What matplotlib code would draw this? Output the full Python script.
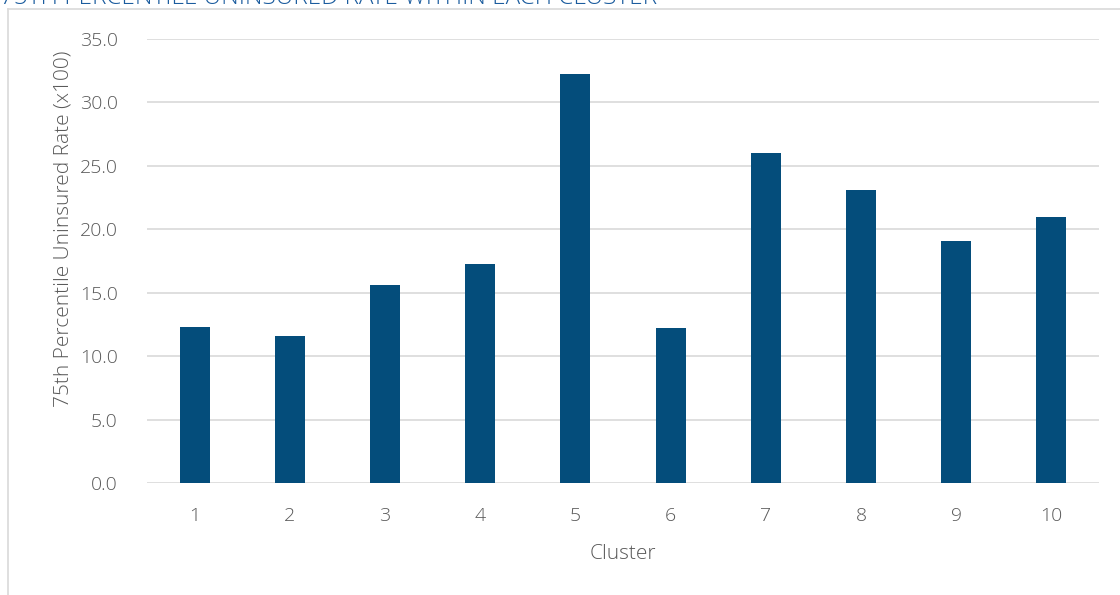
import matplotlib.pyplot as plt
from matplotlib.lines import Line2D

clusters = ['1', '2', '3', '4', '5', '6', '7', '8', '9', '10']
rate_75th = [12.3, 11.6, 15.6, 17.3, 32.2, 12.2, 26.0, 23.1, 19.1, 21.0]

plt.rcParams['font.family'] = ['Open Sans', 'DejaVu Sans']
plt.rcParams['font.weight'] = 'light'
txt = '#595959'

fig = plt.figure(figsize=(11.2, 5.95), dpi=100)
ax = fig.add_axes([0.1313, 0.1882, 0.85, 0.7463])

x = range(len(clusters))
ax.bar(x, rate_75th, width=0.315, color='#044D7B', zorder=3)

ax.set_xlim(-0.5, len(clusters) - 0.5)
ax.set_ylim(0, 35)
ax.set_yticks([0, 5, 10, 15, 20, 25, 30, 35])
ax.set_yticklabels(['%.1f' % v for v in ax.get_yticks()])
ax.set_xticks(list(x))
ax.set_xticklabels(clusters)
ax.tick_params(length=0, labelsize=14, colors=txt)
ax.tick_params(axis='x', pad=17)
ax.tick_params(axis='y', pad=21)
ax.grid(axis='y', color='#D9D9D9', linewidth=1.2, zorder=0)
for s in ax.spines.values():
    s.set_visible(False)

ax.set_xlabel('Cluster', fontsize=15, color=txt, fontweight='light', labelpad=14)
ax.set_ylabel('75th Percentile Uninsured Rate (x100)', fontsize=15, color=txt,
              fontweight='light')
ax.yaxis.set_label_coords(-0.077, 0.572)

# chart frame and title (partly off the top)
fig.add_artist(Line2D([8/1120, 1], [1 - 9/595, 1 - 9/595], color='#D9D9D9', linewidth=1.2))
fig.add_artist(Line2D([8/1120, 8/1120], [0, 1 - 9/595], color='#D9D9D9', linewidth=1.2))
fig.text(0.0, 1.003, '75TH PERCENTILE UNINSURED RATE WITHIN EACH CLUSTER',
         fontsize=17.5, color='#1B5C9E', va='center', ha='left')

fig.savefig('out.png', dpi=100)
